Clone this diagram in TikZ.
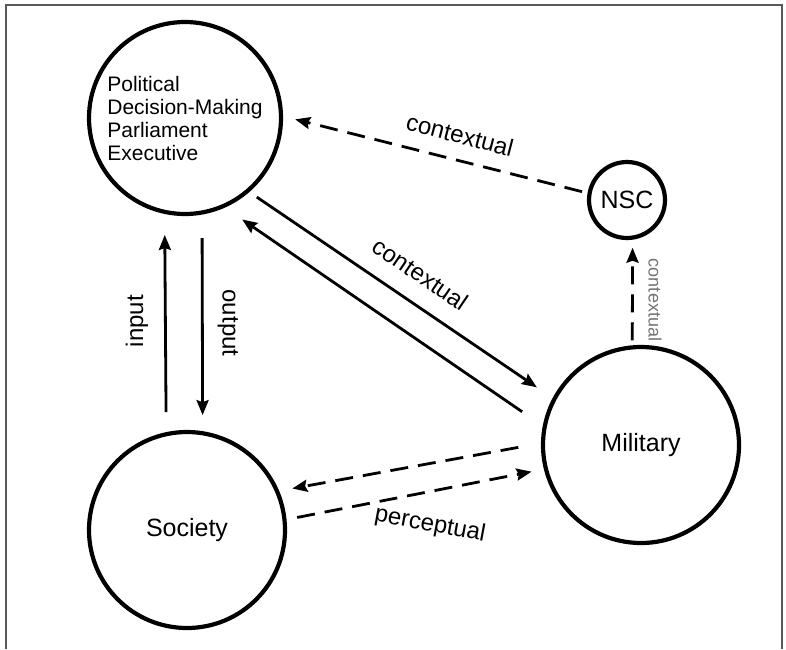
\documentclass[tikz,border=0pt]{standalone}
\usepackage{fontspec}
\setmainfont{Liberation Sans}
\usetikzlibrary{arrows.meta}

\begin{document}
\begin{tikzpicture}[x=1pt, y=-1pt,
  circ/.style={circle, draw, line width=4.2pt, inner sep=0pt},
  arr/.style={-{Stealth[length=15pt, width=12pt, inset=2pt]}, line width=2.8pt},
  dasharr/.style={arr, dash pattern=on 18pt off 10pt},
  lbl/.style={font=\fontsize{24}{26}\selectfont},
  smalllbl/.style={font=\fontsize{18}{20}\selectfont, text=black!55}
]
  \useasboundingbox (0,0) rectangle (786,649);
  % open frame
  \draw[line width=1.8pt, color=black!65] (6,649) -- (6,5) -- (782,5) -- (782,649);

  \node[circ, minimum size=192pt, align=left, font=\fontsize{21}{23}\selectfont] (pol) at (185,118)
    {Political\\Decision-Making\\Parliament\\Executive};
  \node[circ, minimum size=196pt, font=\fontsize{25}{27}\selectfont] (soc) at (187,530) {Society};
  \node[circ, minimum size=196pt, font=\fontsize{25}{27}\selectfont] (mil) at (641,445) {Military};
  \node[circ, minimum size=76pt, font=\fontsize{25}{27}\selectfont] (nsc) at (627,200) {NSC};

  \draw[arr, shorten <=9pt, shorten >=19pt] (pol.-49) -- (mil.152);
  \draw[arr, shorten <=25pt, shorten >=21pt] (mil.169) -- (pol.-66);
  \draw[arr, shorten <=20pt, shorten >=21pt] (soc.102.7) -- (pol.258.2);
  \draw[arr, shorten <=23.5pt, shorten >=16pt] (pol.-80) -- (soc.81.4);
  \draw[dasharr, shorten <=5.7pt, shorten >=12.5pt] (nsc.170.5) -- (pol.1.8);
  \draw[dasharr, shorten <=5pt, shorten >=8pt] (mil.95.2) -- (nsc.-82.8);
  \draw[dasharr, shorten <=23pt, shorten >=13.4pt] (mil.179.4) -- (soc.23.4);
  \draw[dasharr, shorten <=10.8pt, shorten >=12.6pt] (soc.6.3) -- (mil.194.9);

  % labels
  \node[lbl, rotate=-14.5] (ctxnsc) at (460,135) {contextual};
  \node[lbl, rotate=-34.3] (ctxdiag) at (421,274) {contextual};
  \node[lbl, rotate=-10.6] (perc) at (430,525) {perceptual};
  \node[lbl, rotate=90] (inp) at (137,321) {input};
  \node[lbl, rotate=-90] (outp) at (228,323) {output};
  \node[smalllbl, rotate=-90] (ctxmil) at (655,300) {contextual};
\end{tikzpicture}
\end{document}
